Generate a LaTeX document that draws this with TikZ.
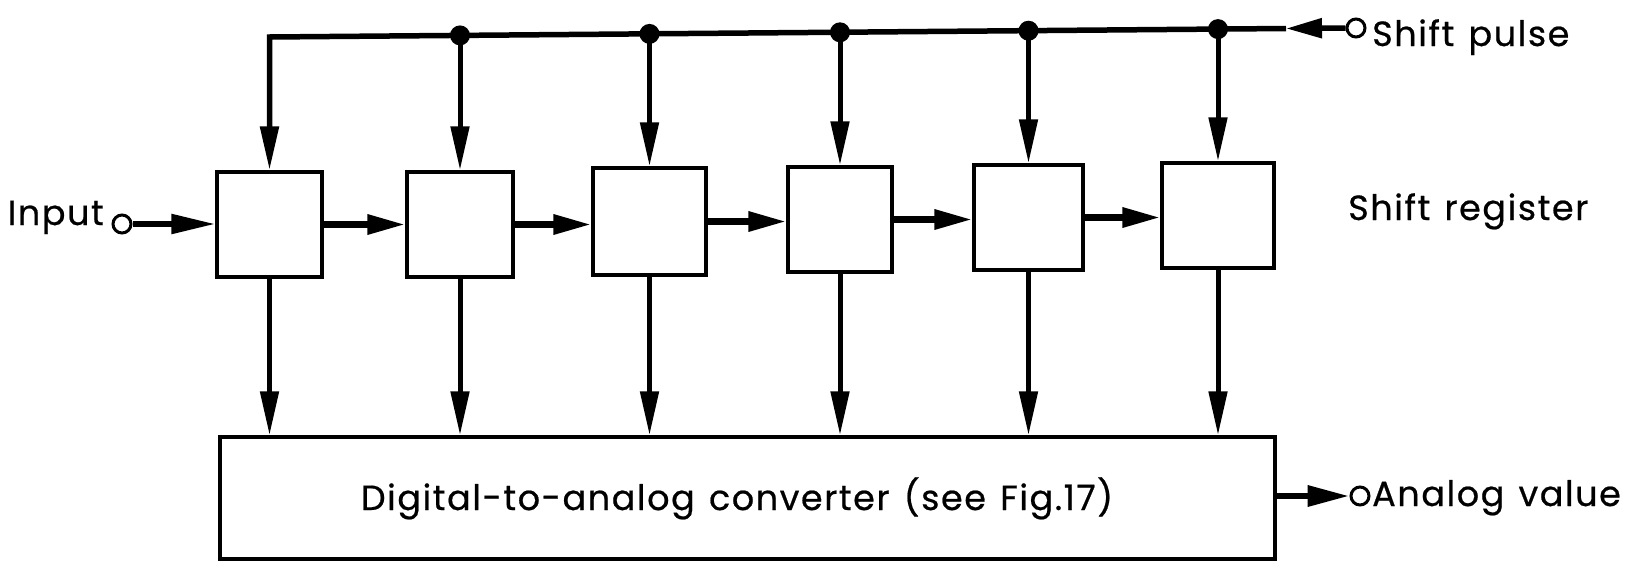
\documentclass[tikz,border=0pt]{standalone}
\usepackage{fontspec}
\setmainfont{Poppins}[FakeBold=0.6, LetterSpace=4.5, WordSpace=1.3]
\usetikzlibrary{arrows.meta}
\begin{document}
\begin{tikzpicture}[x=1pt,y=-1pt,
  reg/.style={draw, line width=3.5pt, inner sep=0pt, minimum height=105pt},
  arr/.style={line width=5pt, line join=miter, -{Triangle[length=44pt,width=18pt]}},
  harr/.style={line width=6.5pt, -{Triangle[length=38pt,width=19pt]}},
  term/.style={circle, draw, line width=3pt, minimum size=18pt, inner sep=0pt},
  dot/.style={circle, fill, minimum size=20pt, inner sep=0pt},
  lbl/.style={font=\fontsize{35}{40}\selectfont, inner sep=0pt}
]
\useasboundingbox (0,0) rectangle (1628,563);

% shift register stages
\node[reg, minimum width=105pt] (r1) at (269.5,224.5) {};
\node[reg, minimum width=106pt] (r2) at (460,224.5) {};
\node[reg, minimum width=113pt, minimum height=107pt] (r3) at (649.5,221.5) {};
\node[reg, minimum width=104pt] (r4) at (840,219.5) {};
\node[reg, minimum width=109pt] (r5) at (1028.5,217.5) {};
\node[reg, minimum width=112pt] (r6) at (1218,215.5) {};

% converter
\node[draw, line width=3.5pt, inner sep=0pt, minimum width=1055pt, minimum height=122pt] (dac) at (747.5,498) {};
\node[lbl, anchor=base] (dact) at (737,510) {Digital-to-analog converter (see Fig.17)};

% terminals
\node[term] (in) at (122,224) {};
\node[term] (sp) at (1356,28) {};
\node[term] (out) at (1360,496) {};

% labels
\node[lbl, anchor=base east] (inl) at (104,225) {Input};
\node[lbl, anchor=base west] (spl) at (1372,46) {Shift pulse};
\node[lbl, anchor=base west] (srl) at (1348,220) {Shift register};
\node[lbl, anchor=base west] (outl) at (1372,506) {Analog value};

% bus
\coordinate (c0) at (269.5,37);
\coordinate (d2) at (460,35.4);
\coordinate (d3) at (649.5,33.9);
\coordinate (d4) at (840,32.3);
\coordinate (d5) at (1028.5,30.7);
\coordinate (d6) at (1218,29.1);
\coordinate (spt) at (1286,28.5);

\draw[line width=5.5pt, -{Triangle[length=36pt,width=19pt]}] (sp.west) -- (spt);
\draw[arr, line width=5.5pt] (spt) -- (c0) -- (r1.north);
\foreach \i in {2,...,6}{
  \draw[arr] (d\i) -- (r\i.north);
  \node[dot] (j\i) at (d\i) {};
}

% data path
\draw[harr, line width=5.5pt, -{Triangle[length=44pt,width=19pt]}] (in.east) -- (in.east -| r1.west);
\draw[harr] (r1.east) -- (r1.east -| r2.west);
\draw[harr] (r2.east) -- (r2.east -| r3.west);
\draw[harr] (r3.east) -- (r3.east -| r4.west);
\draw[harr] (r4.east) -- (r4.east -| r5.west);
\draw[harr] (r5.east) -- (r5.east -| r6.west);

% outputs to converter
\foreach \i in {1,...,6}{
  \draw[arr] (r\i.south) -- (r\i.south |- dac.north);
}
\draw[harr, -{Triangle[length=42pt,width=20pt]}] (dac.east |- out) -- (out.west);
\end{tikzpicture}
\end{document}
